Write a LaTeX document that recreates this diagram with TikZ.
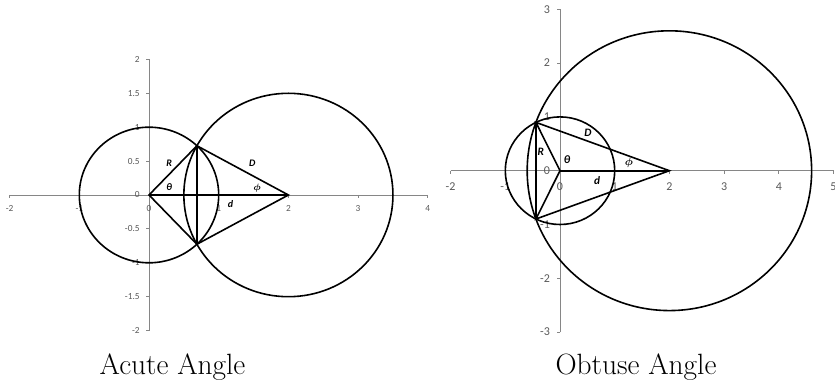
\documentclass[tikz,border=0pt]{standalone}
\usepackage{fontspec}
\newfontfamily\chartfont{Carlito}
\usetikzlibrary{positioning}
\definecolor{AxisGray}{HTML}{868686}
\definecolor{TickText}{HTML}{595959}

\begin{document}
\begin{tikzpicture}[
        x=0.75pt, y=-0.75pt,
        axl/.style={draw=AxisGray, line width=0.6pt},
        crv/.style={draw=black, line width=1.2pt},
        dln/.style={draw=black, line width=1.6pt},
        tickl/.style={font=\chartfont\fontsize{7}{8}\selectfont, text=TickText, inner sep=0pt},
        tickr/.style={font=\chartfont\fontsize{9}{10}\selectfont, text=TickText, inner sep=0pt},
        lbll/.style={font=\chartfont\bfseries\itshape\boldmath\fontsize{7.5}{8}\selectfont, inner sep=0pt},
        lblr/.style={font=\chartfont\bfseries\itshape\boldmath\fontsize{8.5}{9}\selectfont, inner sep=0pt},
        capt/.style={font=\fontsize{22}{26}\selectfont, inner sep=0pt, anchor=base}
      ]
        \useasboundingbox (0,0) rectangle (835,384);

        % acute case
        \begin{scope}[shift={(149,195)}, x=52.275pt, y=50.85pt]
          \draw[axl] (-2,0) -- (4,0);
          \draw[axl] (0,-2) -- (0,2);
          \foreach \x in {-2,...,4}
            \draw[axl] (\x,0) -- ++(0,-2.25pt) node[tickl, below=5.5pt] {\x};
          \foreach \y in {-2,-1.5,-1,-0.5,0,0.5,1,1.5,2}
            \draw[axl] (0,\y) -- ++(-2.25pt,0) node[tickl, left=4.5pt] {\y};

          \coordinate (oA) at (0,0);
          \coordinate (cA) at (2,0);
          \coordinate (pA) at (0.6875,0.7262);
          \coordinate (qA) at (0.6875,-0.7262);
          \draw[crv] (oA) circle[radius=1];
          \draw[crv] (cA) circle[radius=1.5];
          \draw[crv] (oA) -- (pA) -- (cA) -- (qA) -- cycle;
          \draw[crv] (pA) -- (qA);
          \draw[dln] (oA) -- (cA);

          \node[lbll] (rA) at (0.29,0.47) {R};
          \node[lbll] (bigdA) at (1.48,0.47) {D};
          \node[lbll] (thA) at (0.29,0.11) {θ};
          \node[lbll] (phA) at (1.55,0.10) {$\phi$};
          \node[lbll] (dA) at (1.17,-0.14) {d};
        \end{scope}

        % obtuse case
        \begin{scope}[shift={(560,170.7)}, x=41.025pt, y=40.35pt]
          \draw[axl] (-2,0) -- (5,0);
          \draw[axl] (0,-3) -- (0,3);
          \foreach \x in {-2,...,5}
            \draw[axl] (\x,0) -- ++(0,-2.25pt) node[tickr, below=6.5pt] {\x};
          \foreach \y in {-3,...,3}
            \draw[axl] (0,\y) -- ++(-2.25pt,0) node[tickr, left=5pt] {\y};

          \coordinate (oB) at (0,0);
          \coordinate (cB) at (2,0);
          \coordinate (pB) at (-0.44,0.898);
          \coordinate (qB) at (-0.44,-0.898);
          \draw[crv] (oB) circle[radius=1];
          \draw[crv] (cB) circle[radius=2.6];
          \draw[crv] (oB) -- (pB) -- (cB) -- (qB) -- cycle;
          \draw[crv] (pB) -- (qB);
          \draw[dln] (oB) -- (cB);

          \node[lblr] (rB) at (-0.35,0.36) {R};
          \node[lblr] (bigdB) at (0.51,0.71) {D};
          \node[lblr] (thB) at (0.13,0.21) {θ};
          \node[lblr] (phB) at (1.26,0.14) {$\phi$};
          \node[lblr] (dB) at (0.68,-0.19) {d};
        \end{scope}

        \node[capt] (acute) at (172.5,375) {Acute Angle};
        \node[capt] (obtuse) at (636,375) {Obtuse Angle};
      \end{tikzpicture}
\end{document}
